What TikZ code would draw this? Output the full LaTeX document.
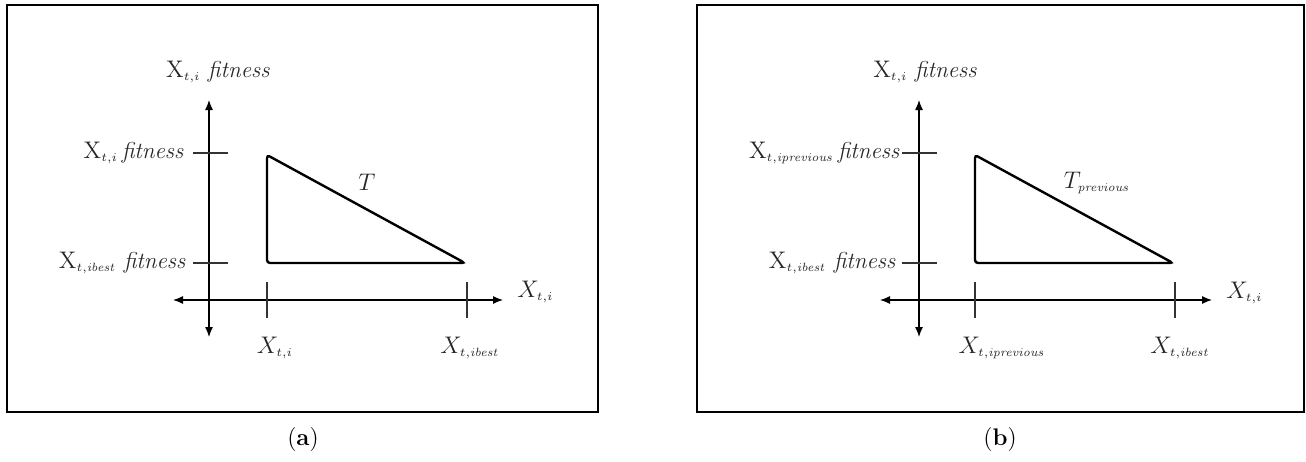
\documentclass[tikz,border=0pt]{standalone}
\usetikzlibrary{arrows.meta}
\newcommand{\sbs}[1]{_{\scriptscriptstyle #1}}
\begin{document}
\begin{tikzpicture}[x=0.5pt,y=-0.5pt,
            frame/.style={draw, line width=1.2pt},
            axis/.style={line width=0.6pt, {Latex[length=5pt,width=4pt]}-{Latex[length=5pt,width=4pt]}},
            tick/.style={line width=0.6pt, black!80},
            tri/.style={line width=1.2pt, rounded corners=1.5pt},
            lab/.style={inner sep=1pt, black!85, font=\fontsize{11.5}{13}\selectfont}
        ]
            \useasboundingbox (0,0) rectangle (1306,461);

            % panel (a)
            \draw[frame] (7,5) rectangle (598,412);
            \coordinate (aYt) at (209,100);
            \coordinate (aYb) at (209,337);
            \coordinate (aXl) at (173,300);
            \coordinate (aXr) at (503,300);
            \draw[axis] (aYb)--(aYt);
            \draw[axis] (aXl)--(aXr);
            \draw[tick] (193,153)--(228,153);
            \draw[tick] (193,263)--(228,263);
            \draw[tick] (267,282)--(267,318);
            \draw[tick] (467,282)--(467,318);
            \coordinate (aP) at (267,155);
            \coordinate (aQ) at (267,263);
            \coordinate (aR) at (465,263);
            \draw[tri] (aP)--(aQ)--(aR)--cycle;
            \node[lab] (aFit) at (218,72) {$\mathrm{X}\sbs{t,i}$ \textit{fitness}};
            \node[lab,anchor=east] (aHi) at (186,153) {$\mathrm{X}\sbs{t,i}$\,\textit{fitness}};
            \node[lab,anchor=east] (aLo) at (188,263) {$\mathrm{X}\sbs{t,\mathit{ibest}}$ \textit{fitness}};
            \node[lab] (aT) at (367,182) {$T$};
            \node[lab] (aXi) at (275,348) {$X\sbs{t,i}$};
            \node[lab] (aXbest) at (470,348) {$X\sbs{t,\mathit{ibest}}$};
            \node[lab,anchor=west] (aXax) at (515,292) {$X\sbs{t,i}$};
            \node[font=\large] (aCap) at (303,440) {(\textbf{a})};

            % panel (b)
            \draw[frame] (697,5) rectangle (1304,412);
            \coordinate (bYt) at (919,100);
            \coordinate (bYb) at (919,337);
            \coordinate (bXl) at (880,300);
            \coordinate (bXr) at (1212,300);
            \draw[axis] (bYb)--(bYt);
            \draw[axis] (bXl)--(bXr);
            \draw[tick] (902,153)--(937,153);
            \draw[tick] (902,263)--(937,263);
            \draw[tick] (975,282)--(975,318);
            \draw[tick] (1175,282)--(1175,318);
            \coordinate (bP) at (975,155);
            \coordinate (bQ) at (975,263);
            \coordinate (bR) at (1173,263);
            \draw[tri] (bP)--(bQ)--(bR)--cycle;
            \node[lab] (bFit) at (925,72) {$\mathrm{X}\sbs{t,i}$ \textit{fitness}};
            \node[lab,anchor=east] (bHi) at (902,153) {$\mathrm{X}\sbs{t,\mathit{iprevious}}$\,\textit{fitness}};
            \node[lab,anchor=east] (bLo) at (898,263) {$\mathrm{X}\sbs{t,\mathit{ibest}}$ \textit{fitness}};
            \node[lab] (bT) at (1097,183) {$T\sbs{\mathit{previous}}$};
            \node[lab] (bXprev) at (1002,348) {$X\sbs{t,\mathit{iprevious}}$};
            \node[lab] (bXbest) at (1180,348) {$X\sbs{t,\mathit{ibest}}$};
            \node[lab,anchor=west] (bXax) at (1224,293) {$X\sbs{t,i}$};
            \node[font=\large] (bCap) at (1000,440) {(\textbf{b})};

        \end{tikzpicture}
\end{document}
